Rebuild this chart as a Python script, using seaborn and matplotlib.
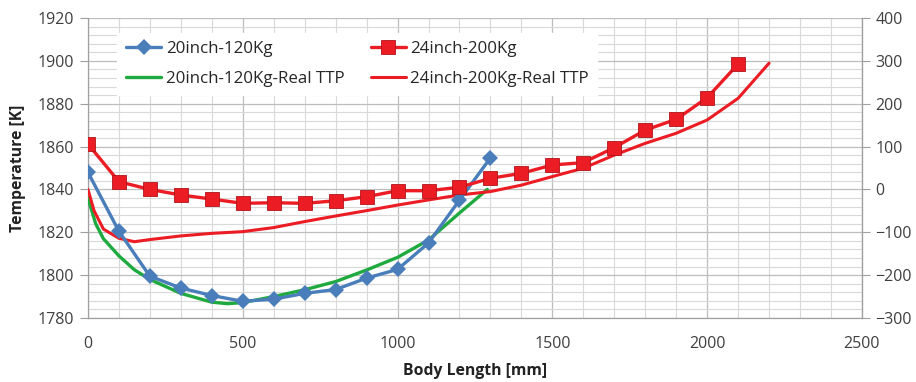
import numpy as np
import pandas as pd
import matplotlib
matplotlib.use("Agg")
import matplotlib.pyplot as plt
from matplotlib.ticker import MultipleLocator
import seaborn as sns

# ---- data ----
x_blue = [0, 100, 200, 300, 400, 500, 600, 700, 800, 900, 1000, 1100, 1200, 1300]
y_blue = [1848, 1820.5, 1799.5, 1794, 1790.5, 1787.8, 1788.8, 1791.5, 1793.3, 1798.6, 1802.7, 1815, 1835, 1854.7]

x_red = [0, 100, 200, 300, 400, 500, 600, 700, 800, 900, 1000, 1100, 1200, 1300,
         1400, 1500, 1600, 1700, 1800, 1900, 2000, 2100]
y_red = [1861.2, 1843.6, 1840.0, 1837.4, 1835.5, 1833.5, 1833.8, 1833.5, 1834.7, 1836.6,
         1839.4, 1839.4, 1841.0, 1845.2, 1847.5, 1851.4, 1852.5, 1859.5, 1867.7, 1872.7,
         1882.8, 1898.5]

x_green = [0, 25, 50, 100, 150, 200, 300, 400, 450, 500, 600, 700, 800, 900, 1000,
           1100, 1200, 1290]
y_green = [1836, 1824, 1817, 1809, 1802.5, 1798, 1791.5, 1787.4, 1786.7, 1787.2, 1790,
           1793.2, 1797, 1802.4, 1808.3, 1816.4, 1829, 1840]

x_redline = [0, 20, 50, 100, 150, 200, 300, 400, 500, 600, 700, 800, 900, 1000, 1100,
             1200, 1300, 1400, 1500, 1600, 1700, 1800, 1900, 2000, 2100, 2200]
y_redline = [1840, 1830, 1821.5, 1817.2, 1815.6, 1816.6, 1818.3, 1819.5, 1820.3, 1822.2,
             1825, 1827.6, 1830.1, 1832.7, 1835.1, 1837.4, 1839, 1842, 1846, 1849.9,
             1856, 1861.5, 1866.2, 1872.4, 1882.5, 1898.9]

labels = ["20inch-120Kg", "24inch-200Kg", "20inch-120Kg-Real TTP", "24inch-200Kg-Real TTP"]

sns.set_style("white")
plt.rcParams['font.family'] = ['Open Sans', 'DejaVu Sans']

BLUE = "#4A7EBB"
RED = "#EC1C24"
GREEN = "#1FAA3F"

fig = plt.figure(figsize=(9.16, 3.82), dpi=100)
ax = fig.add_axes([0.096, 0.1675, 0.845, 0.7855])

df_b = pd.DataFrame({"x": x_blue, "y": y_blue})
df_r = pd.DataFrame({"x": x_red, "y": y_red})
df_g = pd.DataFrame({"x": x_green, "y": y_green})
df_rl = pd.DataFrame({"x": x_redline, "y": y_redline})

sns.lineplot(data=df_g, x="x", y="y", ax=ax, color=GREEN, lw=2.4, label=labels[2], zorder=3)
sns.lineplot(data=df_rl, x="x", y="y", ax=ax, color=RED, lw=2.2, label=labels[3], zorder=3)
sns.lineplot(data=df_b, x="x", y="y", ax=ax, color=BLUE, lw=2.4, marker="D", markersize=8,
             markeredgewidth=0, label=labels[0], zorder=4)
sns.lineplot(data=df_r, x="x", y="y", ax=ax, color=RED, lw=2.4, marker="s", markersize=10.5,
             markeredgewidth=0.6, markeredgecolor="#B0141A", label=labels[1], zorder=5)

ax.set_xlim(0, 2500)
ax.set_ylim(1780, 1920)
ax.xaxis.set_major_locator(MultipleLocator(500))
ax.xaxis.set_minor_locator(MultipleLocator(100))
ax.yaxis.set_major_locator(MultipleLocator(20))
ax.yaxis.set_minor_locator(MultipleLocator(4))
ax.grid(True, which="major", color="#BDBDBD", lw=0.9)
ax.grid(True, which="minor", color="#D9D9D9", lw=0.8)
ax.set_axisbelow(True)

for s in ["left", "bottom", "right"]:
    ax.spines[s].set_color("#A0A0A0")
    ax.spines[s].set_linewidth(0.9)
ax.spines["top"].set_visible(False)

ax.tick_params(axis="both", which="major", labelsize=11.5, colors="#404040", length=6,
               color="#A0A0A0", direction="out")
ax.tick_params(axis="x", which="minor", length=0)
ax.tick_params(axis="y", which="minor", length=0)
ax.tick_params(axis="x", pad=7)
ax.tick_params(axis="y", pad=4)
ax.set_xlabel("Body Length [mm]", fontsize=11.3, fontweight="bold", color="#222222", labelpad=8)
ax.set_ylabel("Temperature [K]", fontsize=11.3, fontweight="bold", color="#222222", labelpad=8)

ax2 = ax.twinx()
ax2.set_ylim(-300, 400)
ax2.yaxis.set_major_locator(MultipleLocator(100))
ax2.tick_params(axis="y", labelsize=11.5, colors="#404040", length=6, color="#A0A0A0")
for s in ["left", "bottom", "top"]:
    ax2.spines[s].set_visible(False)
ax2.spines["right"].set_color("#A0A0A0")
ax2.grid(False)

h, l = ax.get_legend_handles_labels()
hd = dict(zip(l, h))
leg = ax.legend([hd[labels[0]], hd[labels[2]], hd[labels[1]], hd[labels[3]]],
                [labels[0], labels[2], labels[1], labels[3]],
                ncol=2, loc="upper left", bbox_to_anchor=(0.038, 0.95), borderaxespad=0,
                frameon=True, fontsize=12.2, handlelength=2.1, columnspacing=1.55,
                borderpad=0.5, labelspacing=0.8, handletextpad=0.25)
leg.get_frame().set_facecolor("white")
leg.get_frame().set_edgecolor("white")
leg.get_frame().set_alpha(1)
leg.get_frame().set_boxstyle("square", pad=0)
leg.set_zorder(10)

fig.savefig("out.png", dpi=100)
